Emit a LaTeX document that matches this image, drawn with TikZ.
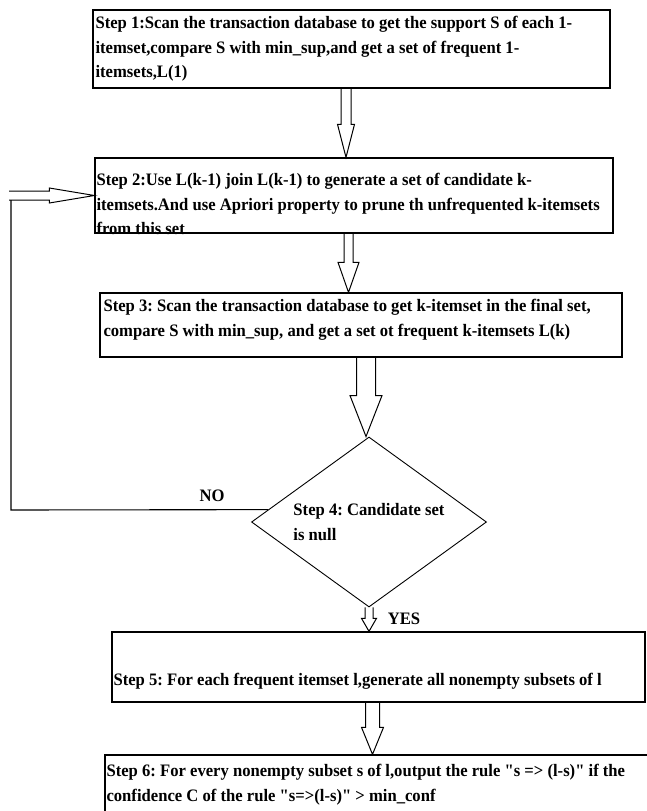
\documentclass[tikz,border=0pt]{standalone}
\usepackage{fontspec}
\setmainfont{Liberation Serif}[FakeStretch=0.95, Ligatures=TeXOff]
\usetikzlibrary{shapes.geometric}
\usetikzlibrary{calc}
\usetikzlibrary{positioning}
\frenchspacing
\tikzset{stepbox/.style={draw=black, line width=1.3pt, inner sep=0pt}}
\tikzset{steptext/.style={font=\bfseries\fontsize{17.5pt}{24.5pt}\selectfont, align=left, inner sep=0pt}}
\tikzset{blockarr/.style={draw=black, line width=1pt}}
\tikzset{loopline/.style={draw=black, line width=1.1pt}}
% hollow arrow pointing down: top, tip, shaft half, head half, head length
\newcommand{\blockdown}[5]{%
	\draw[blockarr] let \p1=#1, \p2=#2 in
		(\x1-#3,\y1) -- (\x1-#3,\y2+#5) -- (\x1-#4,\y2+#5) -- (\x1,\y2)
		-- (\x1+#4,\y2+#5) -- (\x1+#3,\y2+#5) -- (\x1+#3,\y1);
}

\begin{document}
\begin{tikzpicture}[x=1pt,y=-1pt]
	\useasboundingbox (0,0) rectangle (647,811);
	\clip (0,0) rectangle (647,811);
	% boxes
	\node[stepbox, minimum width=517pt, minimum height=78pt] (s1) at (351.5,49) {};
	\node[stepbox, minimum width=518pt, minimum height=75pt] (s2) at (354,195.5) {};
	\node[stepbox, minimum width=522pt, minimum height=64pt] (s3) at (361,325) {};
	\node[diamond, draw=black, line width=0.9pt, aspect=1.38, inner sep=0pt,
		minimum width=235pt, minimum height=170pt, align=left,
		font=\bfseries\fontsize{17.5pt}{24.5pt}\selectfont] (d4) at (369,522) {Step 4: Candidate set\\is null};
	\node[stepbox, minimum width=533pt, minimum height=70pt] (s5) at (378.5,667) {};
	\node[stepbox, minimum width=560pt, minimum height=80pt] (s6) at (385,795) {};
	% texts
	\node[steptext, below right=7pt and 3pt of s1.north west] (t1) {Step 1:Scan the transaction database to get the support S of each 1-\\itemset,compare S with min\_sup,and get a set of frequent 1-\\itemsets,L(1)};
	\node[steptext, below right=16pt and 2pt of s2.north west] (t2) {Step 2:Use L(k-1) join L(k-1) to generate a set of candidate k-\\itemsets.And use Apriori property to prune th unfrequented k-itemsets\\from this set};
	\node[steptext, below right=7pt and 4pt of s3.north west] (t3) {Step 3: Scan the transaction database to get k-itemset in the final set,\\compare S with min\_sup, and get a set ot frequent k-itemsets L(k)};
	\node[steptext, below right=42pt and 2pt of s5.north west] (t5) {Step 5: For each frequent itemset l,generate all nonempty subsets of l};
	\node[steptext, below right=10pt and 2pt of s6.north west] (t6) {Step 6: For every nonempty subset s of l,output the rule "s => (l-s)" if the\\confidence C of the rule "s=>(l-s)" > min\_conf};
	\node[steptext] (no) at (212,496) {NO};
	\node[steptext] (yes) at (404,619) {YES};
	% arrows
	\blockdown{($(s1.south)+(-5.5,0)$)}{(s2.north)}{5}{8.5}{33}
	\blockdown{($(s2.south)+(-5.5,0)$)}{(s3.north)}{4.5}{10.5}{30}
	\blockdown{($(s3.south)+(5,0)$)}{(d4.north)}{9.5}{16}{41}
	\blockdown{(d4.south)}{(s5.north)}{4}{7.5}{13}
	\blockdown{($(s5.south)+(-6,0)$)}{(s6.north)}{7}{11}{27}
	% feedback loop
	\coordinate (fb) at (9,195.5);
	\coordinate (loop) at (11,510);
	\draw[blockarr] let \p1=(fb), \p2=(s2.west) in
		(\x1,\y1+4.5) -- (\x2-45,\y1+4.5) -- (\x2-45,\y1+7.5) -- (\x2,\y1)
		-- (\x2-45,\y1-7.5) -- (\x2-45,\y1-4.5) -- (\x1,\y1-4.5);
	\draw[loopline] (d4.173.2) -- (loop) -- ($(loop |- fb)+(0,4.5)$);
\end{tikzpicture}
\end{document}
